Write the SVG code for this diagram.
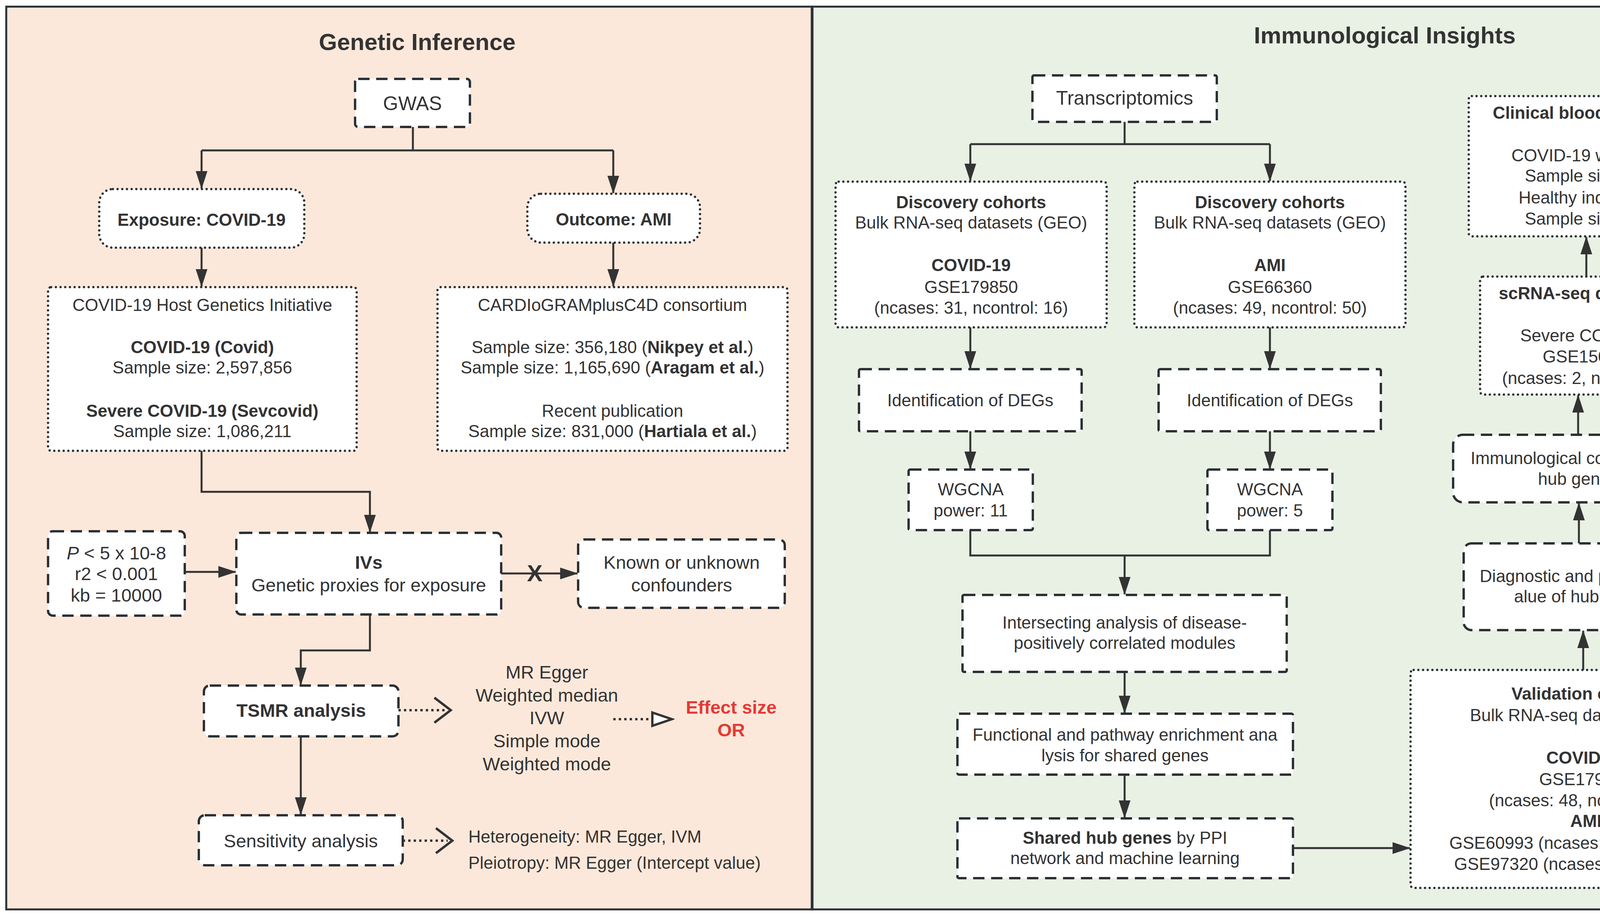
<svg xmlns="http://www.w3.org/2000/svg" width="4966" height="2350" viewBox="0 0 4966 2350">
<style>
.t{font-family:"Liberation Sans",Arial,sans-serif;font-size:44px;fill:#333;text-anchor:middle}
.s{text-anchor:start}
.b{font-weight:bold}
.l{font-size:47px}
.xl{font-size:50px}
.h{font-size:60px;font-weight:bold;fill:#333}
.red{fill:#e53935;font-weight:bold}
.dash{fill:#fff;stroke:#2b3036;stroke-width:6;stroke-dasharray:29 17}
.dot{fill:#fff;stroke:#2b3036;stroke-width:6;stroke-dasharray:0 12;stroke-linecap:round}
.con{fill:none;stroke:#333;stroke-width:5}
.dcon{fill:none;stroke:#333;stroke-width:6;stroke-dasharray:6 8}
</style>
<defs>
<marker id="ar" markerUnits="userSpaceOnUse" viewBox="0 0 46 30" markerWidth="46" markerHeight="30" refX="44" refY="15" orient="auto"><path d="M0,0 L46,15 L0,30 z" fill="#333"/></marker>
<marker id="chev" markerUnits="userSpaceOnUse" viewBox="-6 -6 56 76" markerWidth="56" markerHeight="76" refX="30" refY="32" orient="auto"><path d="M0,0 L42,32 L0,64" fill="none" stroke="#333" stroke-width="6"/></marker>
<marker id="tri" markerUnits="userSpaceOnUse" viewBox="-5 -5 62 44" markerWidth="62" markerHeight="44" refX="50" refY="17" orient="auto"><path d="M0,0 L50,17 L0,34 z" fill="#fff" stroke="#333" stroke-width="6" stroke-linejoin="miter"/></marker>
</defs>

<g id="panels">
<rect x="16" y="17" width="2062" height="2311" fill="#fce8da" stroke="#2b3036" stroke-width="5"/>
<rect x="2080" y="17" width="2868" height="2311" fill="#e9f0e4" stroke="#2b3036" stroke-width="5"/>
<text class="t h" x="1068" y="128">Genetic Inference</text>
<text class="t h" x="3545" y="111">Immunological Insights</text>
</g>

<g id="connectors">
<path class="con" d="M1057,325 V385 M516,385 H1570"/>
<path class="con" d="M516,385 V482" marker-end="url(#ar)"/>
<path class="con" d="M1570,385 V494" marker-end="url(#ar)"/>
<path class="con" d="M516,634 V733" marker-end="url(#ar)"/>
<path class="con" d="M1570,621 V733" marker-end="url(#ar)"/>
<path class="con" d="M516,1154 V1259 H947 V1362" marker-end="url(#ar)"/>
<path class="con" d="M473,1464 H603" marker-end="url(#ar)"/>
<path class="con" d="M1283,1468 H1478" marker-end="url(#ar)"/>
<text class="t b" x="1369" y="1488" style="font-size:60px">X</text>
<path class="con" d="M947,1573 V1665 H770 V1753" marker-end="url(#ar)"/>
<path class="dcon" d="M1020,1818 H1142" marker-end="url(#chev)"/>
<path class="dcon" d="M1570,1841 H1720" marker-end="url(#tri)"/>
<path class="con" d="M770,1885 V2085" marker-end="url(#ar)"/>
<path class="dcon" d="M1031,2152 H1146" marker-end="url(#chev)"/>

<path class="con" d="M2879,312 V369 M2484,369 H3251"/>
<path class="con" d="M2484,369 V463" marker-end="url(#ar)"/>
<path class="con" d="M3251,369 V463" marker-end="url(#ar)"/>
<path class="con" d="M2484,838 V943" marker-end="url(#ar)"/>
<path class="con" d="M3251,838 V943" marker-end="url(#ar)"/>
<path class="con" d="M2484,1104 V1200" marker-end="url(#ar)"/>
<path class="con" d="M3251,1104 V1200" marker-end="url(#ar)"/>
<path class="con" d="M2484,1357 V1422 H3251 V1357"/>
<path class="con" d="M2879,1422 V1521" marker-end="url(#ar)"/>
<path class="con" d="M2879,1720 V1825" marker-end="url(#ar)"/>
<path class="con" d="M2879,1983 V2093" marker-end="url(#ar)"/>
<path class="con" d="M3310,2171 H3609" marker-end="url(#ar)"/>
<path class="con" d="M4053,1715 V1615" marker-end="url(#ar)"/>
<path class="con" d="M4042,1391 V1288" marker-end="url(#ar)"/>
<path class="con" d="M4040,1113 V1012" marker-end="url(#ar)"/>
<path class="con" d="M4061,708 V607" marker-end="url(#ar)"/>
<path class="dcon" d="M4361,425 H4448" marker-end="url(#chev)"/>
<path class="dcon" d="M4360,803 H4461" marker-end="url(#chev)"/>
<path class="dcon" d="M4358,1200 H4459" marker-end="url(#chev)"/>
<path class="dcon" d="M4356,1484 H4461" marker-end="url(#chev)"/>
</g>

<g id="gwas"><rect class="dash" x="909" y="202" width="294" height="123" rx="8"/><text class="t xl" x="1056" y="282">GWAS</text></g>
<g id="exposure"><rect class="dot" x="254" y="484" width="525" height="150" rx="35"/><text class="t b" x="516" y="578">Exposure: COVID-19</text></g>
<g id="outcome"><rect class="dot" x="1350" y="496" width="442" height="125" rx="35"/><text class="t b" x="1571" y="577">Outcome: AMI</text></g>
<g id="covid-hgi"><rect class="dot" x="123" y="735" width="790" height="419" rx="8"/>
<text class="t" x="518" y="796">COVID-19 Host Genetics Initiative</text>
<text class="t b" x="518" y="904">COVID-19 (Covid)</text>
<text class="t" x="518" y="956">Sample size: 2,597,856</text>
<text class="t b" x="518" y="1067">Severe COVID-19 (Sevcovid)</text>
<text class="t" x="518" y="1119">Sample size: 1,086,211</text></g>
<g id="cardiogram"><rect class="dot" x="1120" y="735" width="896" height="419" rx="8"/>
<text class="t" x="1568" y="796">CARDIoGRAMplusC4D consortium</text>
<text class="t" x="1568" y="904">Sample size: 356,180 (<tspan class="b">Nikpey et al.</tspan>)</text>
<text class="t" x="1568" y="956">Sample size: 1,165,690 (<tspan class="b">Aragam et al.</tspan>)</text>
<text class="t" x="1568" y="1067">Recent publication</text>
<text class="t" x="1568" y="1119">Sample size: 831,000 (<tspan class="b">Hartiala et al.</tspan>)</text></g>
<g id="thresholds"><rect class="dash" x="123" y="1360" width="350" height="216" rx="12"/>
<text class="t l" x="298" y="1432"><tspan font-style="italic">P</tspan> &lt; 5 x 10-8</text>
<text class="t l" x="298" y="1485">r2 &lt; 0.001</text>
<text class="t l" x="298" y="1540">kb = 10000</text></g>
<g id="ivs"><rect class="dash" x="605" y="1364" width="678" height="209" rx="12"/>
<text class="t l b" x="944" y="1456">IVs</text>
<text class="t l" x="944" y="1514">Genetic proxies for exposure</text></g>
<g id="confounders"><rect class="dash" x="1480" y="1381" width="529" height="175" rx="15"/>
<text class="t l" x="1745" y="1456">Known or unknown</text>
<text class="t l" x="1745" y="1514">confounders</text></g>
<g id="tsmr"><rect class="dash" x="522" y="1755" width="498" height="130" rx="15"/><text class="t l b" x="771" y="1835">TSMR analysis</text></g>
<g id="methods">
<text class="t l" x="1400" y="1737">MR Egger</text>
<text class="t l" x="1400" y="1796">Weighted median</text>
<text class="t l" x="1400" y="1854">IVW</text>
<text class="t l" x="1400" y="1913">Simple mode</text>
<text class="t l" x="1400" y="1972">Weighted mode</text></g>
<g id="effect"><text class="t l red" x="1872" y="1827">Effect size</text><text class="t l red" x="1872" y="1885">OR</text></g>
<g id="sensitivity"><rect class="dash" x="509" y="2087" width="522" height="128" rx="15"/><text class="t l" x="770" y="2169">Sensitivity analysis</text></g>
<g id="sens-tests">
<text class="t s" x="1199" y="2157">Heterogeneity: MR Egger, IVM</text>
<text class="t s" x="1199" y="2224">Pleiotropy: MR Egger (Intercept value)</text></g>

<g id="transcriptomics"><rect class="dash" x="2643" y="193" width="472" height="119" rx="4"/><text class="t xl" x="2879" y="268">Transcriptomics</text></g>
<g id="disc-covid"><rect class="dot" x="2139" y="465" width="694" height="373" rx="8"/>
<text class="t b" x="2486" y="533">Discovery cohorts</text>
<text class="t" x="2486" y="585">Bulk RNA-seq datasets (GEO)</text>
<text class="t b" x="2486" y="694">COVID-19</text>
<text class="t" x="2486" y="750">GSE179850</text>
<text class="t" x="2486" y="803">(ncases: 31, ncontrol: 16)</text></g>
<g id="disc-ami"><rect class="dot" x="2904" y="465" width="694" height="373" rx="8"/>
<text class="t b" x="3251" y="533">Discovery cohorts</text>
<text class="t" x="3251" y="585">Bulk RNA-seq datasets (GEO)</text>
<text class="t b" x="3251" y="694">AMI</text>
<text class="t" x="3251" y="750">GSE66360</text>
<text class="t" x="3251" y="803">(ncases: 49, ncontrol: 50)</text></g>
<g id="deg-covid"><rect class="dash" x="2199" y="945" width="570" height="159" rx="4"/><text class="t" x="2484" y="1040">Identification of DEGs</text></g>
<g id="deg-ami"><rect class="dash" x="2966" y="945" width="569" height="159" rx="4"/><text class="t" x="3251" y="1040">Identification of DEGs</text></g>
<g id="wgcna-covid"><rect class="dash" x="2326" y="1202" width="318" height="155" rx="4"/>
<text class="t" x="2485" y="1268">WGCNA</text><text class="t" x="2485" y="1322">power: 11</text></g>
<g id="wgcna-ami"><rect class="dash" x="3091" y="1202" width="320" height="155" rx="4"/>
<text class="t" x="3251" y="1268">WGCNA</text><text class="t" x="3251" y="1322">power: 5</text></g>
<g id="intersect"><rect class="dash" x="2464" y="1523" width="830" height="197" rx="4"/>
<text class="t" x="2879" y="1609">Intersecting analysis of disease-</text>
<text class="t" x="2879" y="1661">positively correlated modules</text></g>
<g id="enrichment"><rect class="dash" x="2451" y="1827" width="859" height="156" rx="4"/>
<text class="t" x="2880" y="1896">Functional and pathway enrichment ana</text>
<text class="t" x="2880" y="1949">lysis for shared genes</text></g>
<g id="shared-hub"><rect class="dash" x="2451" y="2095" width="859" height="153" rx="4"/>
<text class="t" x="2880" y="2160"><tspan class="b">Shared hub genes</tspan> by PPI</text>
<text class="t" x="2880" y="2212">network and machine learning</text></g>
<g id="validation"><rect class="dot" x="3611" y="1715" width="905" height="558" rx="8"/>
<text class="t b" x="4060" y="1791">Validation cohorts</text>
<text class="t" x="4060" y="1846">Bulk RNA-seq datasets (GEO)</text>
<text class="t b" x="4060" y="1955">COVID-19</text>
<text class="t" x="4060" y="2010">GSE179627</text>
<text class="t" x="4060" y="2064">(ncases: 48, ncontrol: 22)</text>
<text class="t b" x="4060" y="2117">AMI</text>
<text class="t" x="4060" y="2173">GSE60993 (ncases: 17, ncontrol: 7)</text>
<text class="t" x="4060" y="2227">GSE97320 (ncases: 3, ncontrol: 3)</text></g>
<g id="diagnostic"><rect class="dash" x="3747" y="1391" width="609" height="222" rx="20"/>
<text class="t" x="4051" y="1490">Diagnostic and predictive v</text>
<text class="t" x="4051" y="1542">alue of hub genes</text></g>
<g id="diag-out">
<text class="t" x="4690" y="1475">ROC</text>
<text class="t" x="4690" y="1540">Nomogram model</text>
<text class="t" x="4690" y="1605">DCA</text></g>
<g id="immuno"><rect class="dash" x="3720" y="1113" width="638" height="173" rx="25"/>
<text class="t" x="4040" y="1188">Immunological correlation of</text>
<text class="t" x="4040" y="1241">hub genes</text></g>
<g id="immuno-out">
<text class="t" x="4688" y="1180">ssGSEA</text>
<text class="t" x="4688" y="1249">Single-gene GSEA</text></g>
<g id="scrna"><rect class="dot" x="3789" y="708" width="571" height="302" rx="8"/>
<text class="t" x="4069" y="766"><tspan class="b">scRNA-seq data</tspan>(GEO)</text>
<text class="t" x="4069" y="874">Severe COVID-19</text>
<text class="t" x="4069" y="928">GSE150728</text>
<text class="t" x="4069" y="983">(ncases: 2, ncontrol: 2)</text></g>
<g id="scrna-out">
<text class="t" x="4670" y="826">Cell profiling</text>
<text class="t" x="4675" y="889">Cell-cell communication</text>
<text class="t" x="4670" y="958">Gene expression pattern</text></g>
<g id="clinical"><rect class="dot" x="3760" y="246" width="601" height="359" rx="8"/>
<text class="t b" x="4060" y="304">Clinical blood samples</text>
<text class="t" x="4060" y="413">COVID-19 with AMI</text>
<text class="t" x="4060" y="465">Sample size: 10</text>
<text class="t" x="4060" y="521">Healthy individual</text>
<text class="t" x="4060" y="575">Sample size: 10</text></g>
<g id="clinical-out">
<text class="t" x="4690" y="411">RT-qPCR:</text>
<text class="t" x="4690" y="478">hub gene expression</text></g>
</svg>
